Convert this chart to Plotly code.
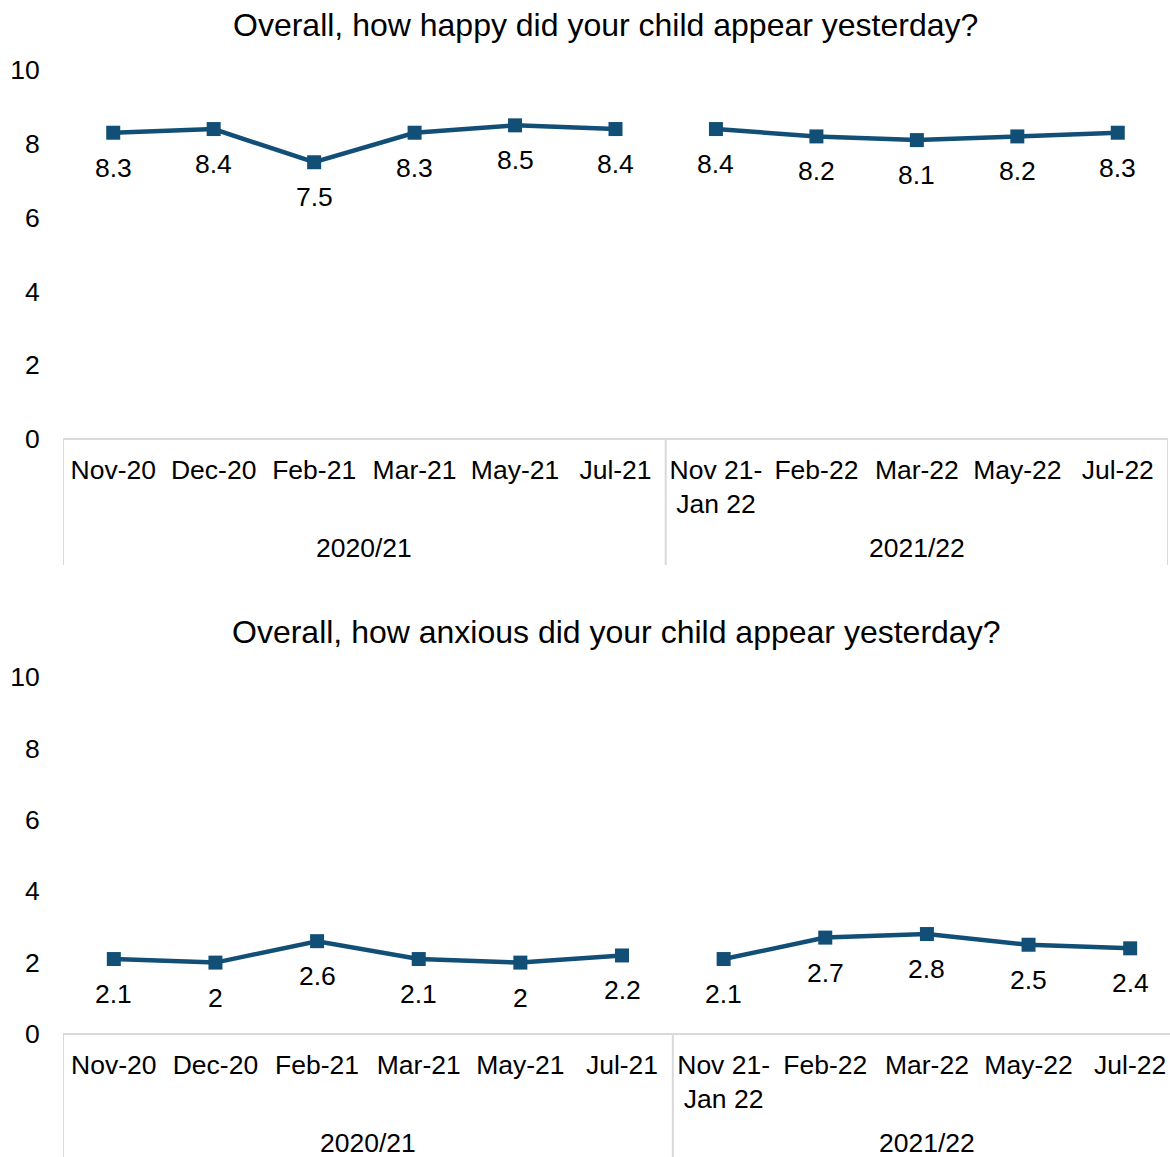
import plotly.graph_objects as go

categories = ["Nov-20", "Dec-20", "Feb-21", "Mar-21", "May-21", "Jul-21",
              "Nov 21-<br>Jan 22", "Feb-22", "Mar-22", "May-22", "Jul-22"]
groups = ["2020/21", "2021/22"]
group_sizes = [6, 5]
happy = [8.3, 8.4, 7.5, 8.3, 8.5, 8.4, 8.4, 8.2, 8.1, 8.2, 8.3]
anxious = [2.1, 2.0, 2.6, 2.1, 2.0, 2.2, 2.1, 2.7, 2.8, 2.5, 2.4]
titles = ["Overall, how happy did your child appear yesterday?",
          "Overall, how anxious did your child appear yesterday?"]
y_ticks = [0, 2, 4, 6, 8, 10]

W, H = 1170, 1157
COLOR = "#124f76"
GRID = "#d9d9d9"
FONT = "Liberation Sans, Arial, sans-serif"
FS = 26.5

fig = go.Figure()

panels = [
    dict(xl=63, xr=1168, yt=70, yb=439, box=565, ty=25, tx=605, grp_y=548, vals=happy),
    dict(xl=63, xr=1181, yt=677, yb=1034, box=1157, ty=632, tx=616, grp_y=1143, vals=anxious),
]

n = len(categories)
xs = list(range(n))
annotations = []
shapes = []
for p_i, p in enumerate(panels):
    xa = "x" if p_i == 0 else "x2"
    ya = "y" if p_i == 0 else "y2"
    step = (p["xr"] - p["xl"]) / n
    right_px = min(p["xr"], W)
    xmax = -0.5 + (right_px - p["xl"]) / step
    dom_x = [p["xl"] / W, right_px / W]
    dom_y = [1 - p["yb"] / H, 1 - p["yt"] / H]
    axkey = "" if p_i == 0 else "2"
    fig.update_layout(**{
        f"xaxis{axkey}": dict(domain=dom_x, range=[-0.5, xmax], tickvals=xs, ticktext=categories,
                              showgrid=False, zeroline=False, showline=False, automargin=False,
                              ticks="outside", ticklen=7, tickcolor="rgba(0,0,0,0)",
                              tickfont=dict(family=FONT, size=FS, color="#000"),
                              anchor=ya, fixedrange=True, tickangle=0),
        f"yaxis{axkey}": dict(domain=dom_y, range=[0, 10], tickvals=y_ticks,
                              showgrid=False, zeroline=False, showline=False, automargin=False,
                              ticks="outside", ticklen=17, tickcolor="rgba(0,0,0,0)",
                              tickfont=dict(family=FONT, size=FS, color="#000"),
                              anchor=xa, fixedrange=True),
    })
    vals = p["vals"]
    box_frac = (p["yb"] - p["box"]) / (p["yb"] - p["yt"])
    start = 0
    for g, size in zip(groups, group_sizes):
        idx = list(range(start, start + size))
        fig.add_trace(go.Scatter(
            x=idx, y=[vals[i] for i in idx], mode="lines+markers",
            line=dict(color=COLOR, width=4.5),
            marker=dict(symbol="square", size=14, color=COLOR),
            xaxis=xa, yaxis=ya, showlegend=False, hoverinfo="skip"))
        annotations.append(dict(
            x=(start + start + size - 1) / 2, y=(p["yb"] - p["grp_y"]) / (p["yb"] - p["yt"]),
            xref=xa, yref=f"{ya} domain", text=g, showarrow=False,
            font=dict(family=FONT, size=FS, color="#000"), yanchor="middle"))
        start += size
    for i in xs:
        annotations.append(dict(
            x=i, y=vals[i], xref=xa, yref=ya, text=f"{vals[i]:g}", showarrow=False,
            yshift=-35, font=dict(family=FONT, size=FS, color="#000"), yanchor="middle"))
    shapes.append(dict(type="line", xref=xa, yref=f"{ya} domain", x0=-0.5, x1=xmax,
                       y0=0, y1=0, line=dict(color=GRID, width=2)))
    b = -0.5
    for size in [0] + group_sizes:
        b += size
        shapes.append(dict(type="line", xref=xa, yref=f"{ya} domain", x0=b, x1=b,
                           y0=0, y1=box_frac, line=dict(color=GRID, width=2)))
    annotations.append(dict(
        x=p["tx"] / W, y=1 - p["ty"] / H, xref="paper", yref="paper", text=titles[p_i],
        showarrow=False, font=dict(family=FONT, size=32, color="#000"),
        xanchor="center", yanchor="middle"))

fig.update_layout(
    width=W, height=H, margin=dict(l=0, r=0, t=0, b=0, pad=0),
    paper_bgcolor="white", plot_bgcolor="white",
    annotations=annotations, shapes=shapes, showlegend=False,
)

fig.write_html("out.html", config={"displayModeBar": False},
               post_script="document.body.style.margin='0';document.body.style.overflow='hidden';")
